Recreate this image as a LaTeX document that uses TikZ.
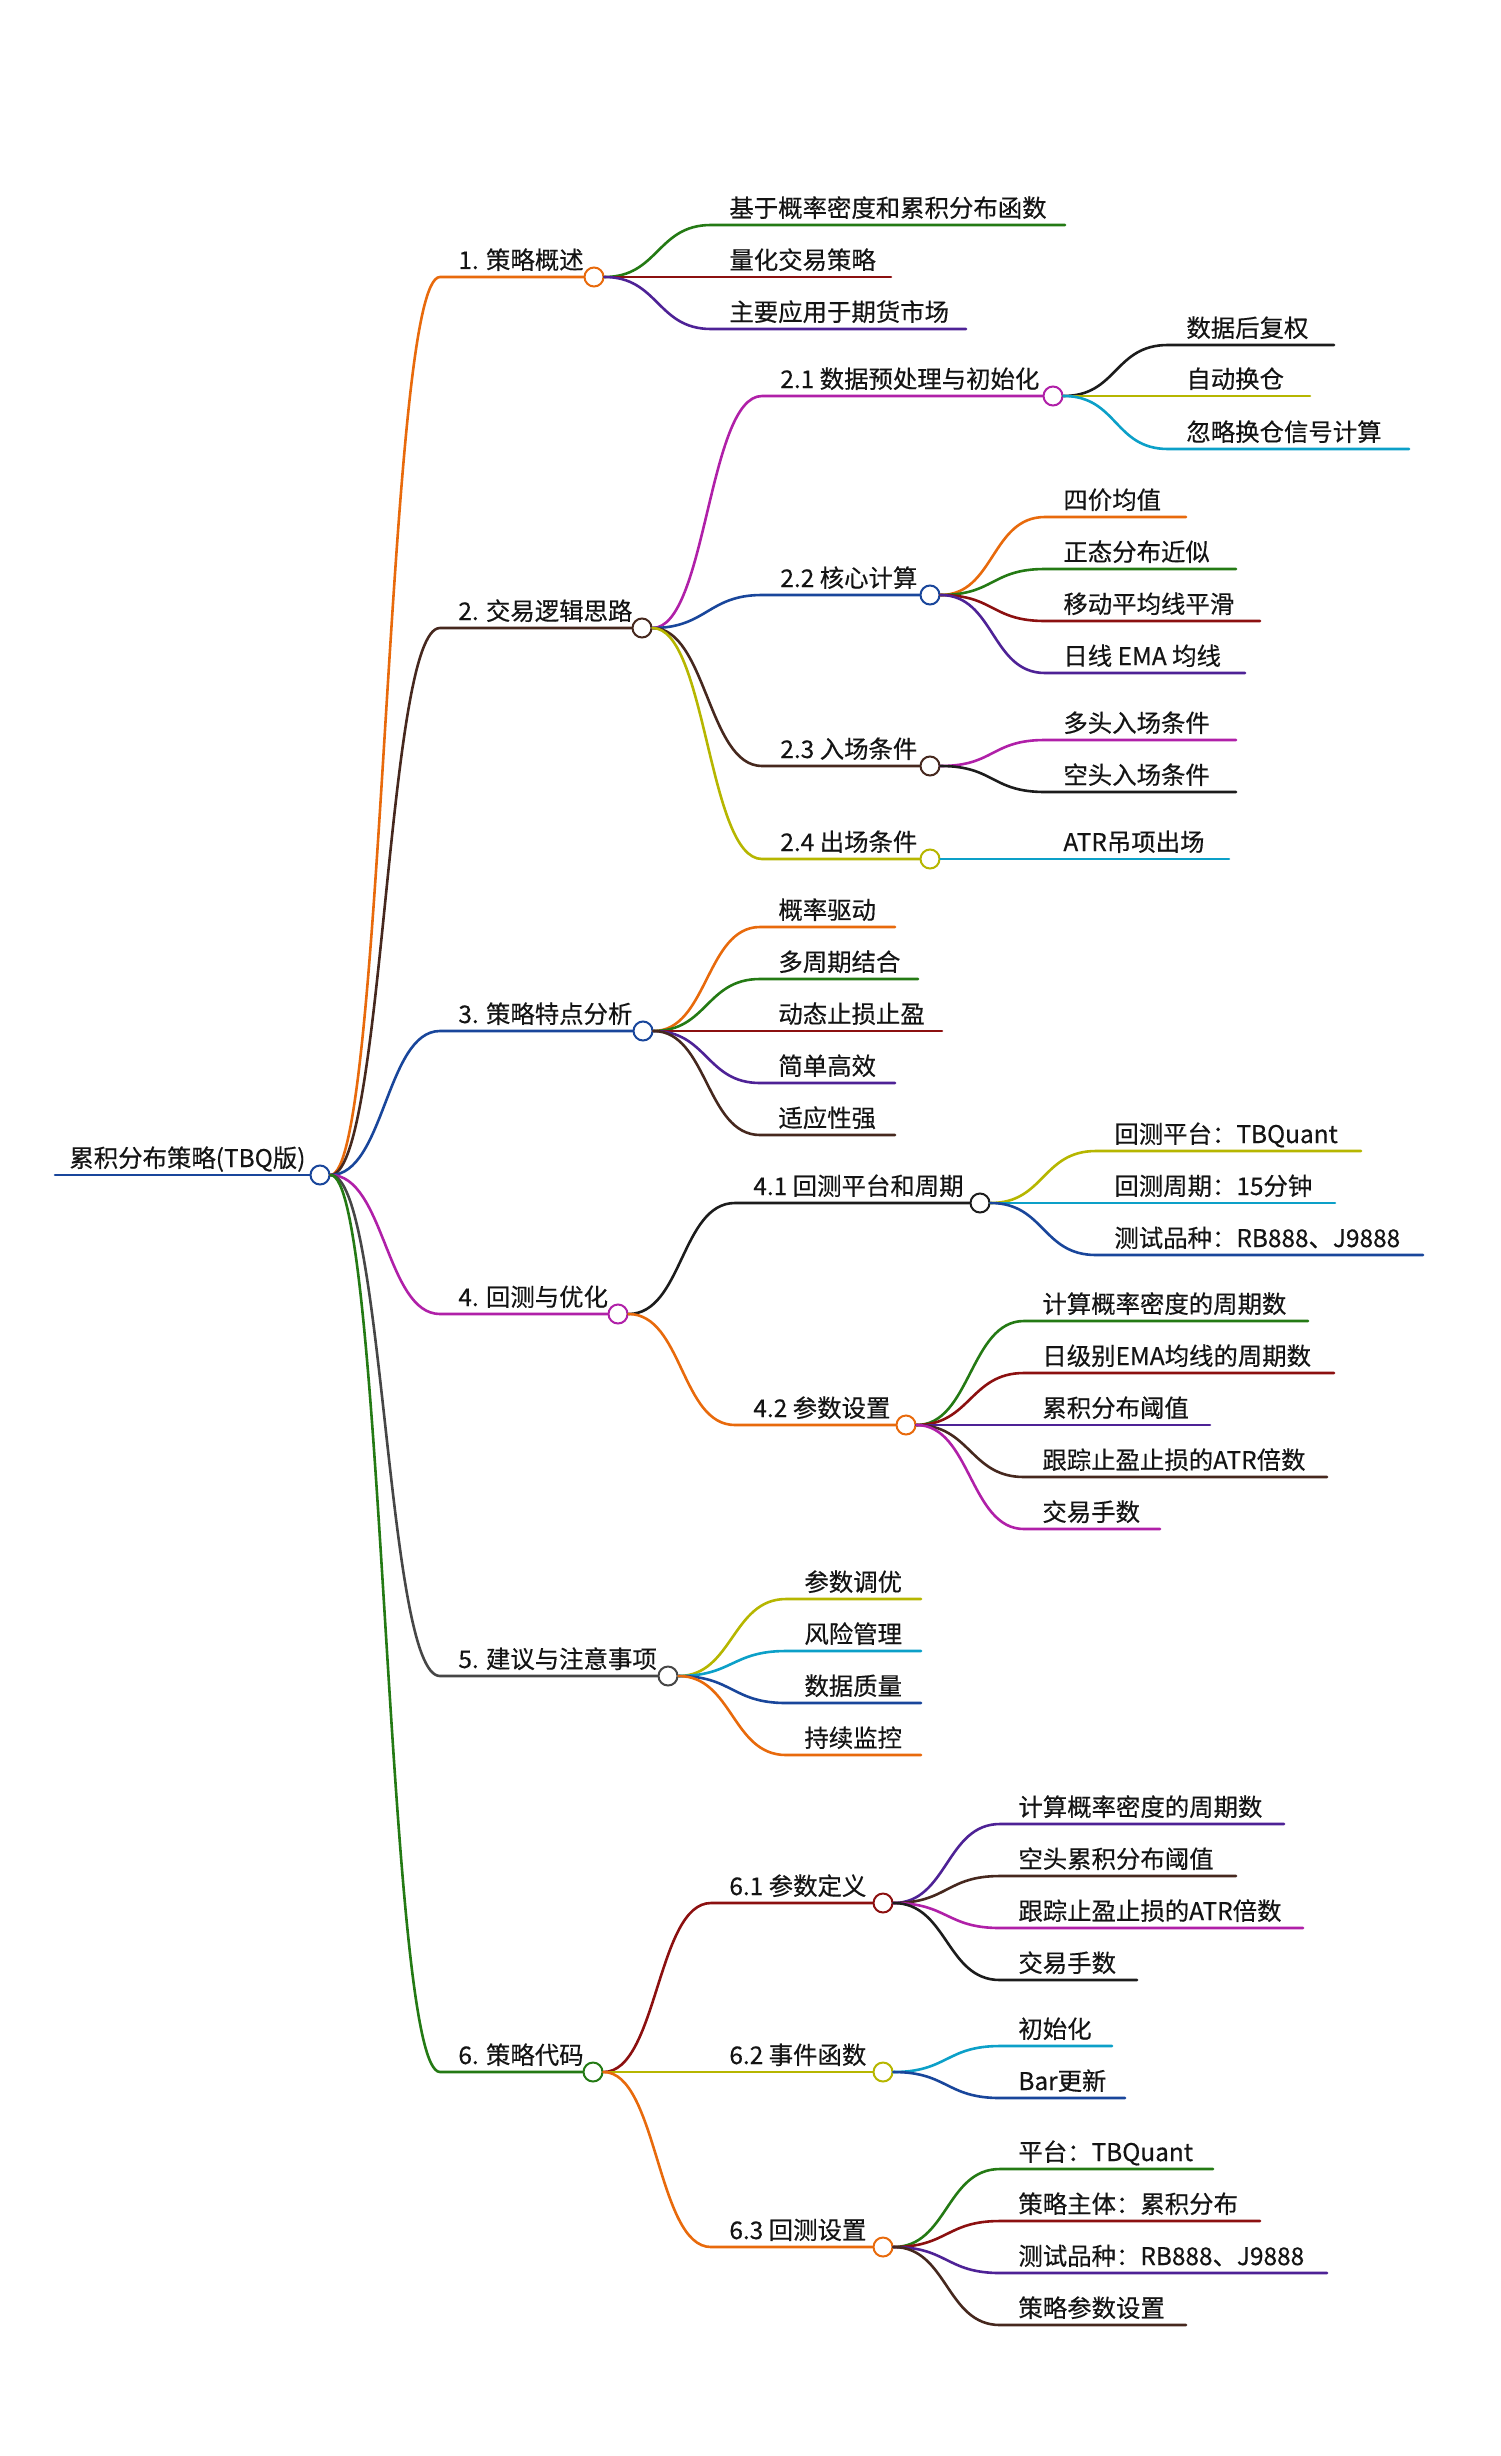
\documentclass[tikz,border=0pt]{standalone}
\usepackage{fontspec}
\setmainfont{Noto Sans CJK SC}[BoldFont=*, BoldFeatures={FakeBold=0.4}]
\usetikzlibrary{calc}

\definecolor{cOrange}{RGB}{232,106,12}
\definecolor{cGreen}{RGB}{36,122,20}
\definecolor{cRed}{RGB}{140,16,16}
\definecolor{cIndigo}{RGB}{78,34,150}
\definecolor{cMagenta}{RGB}{176,32,168}
\definecolor{cBrown}{RGB}{70,40,30}
\definecolor{cNavy}{RGB}{25,70,155}
\definecolor{cBlack}{RGB}{28,28,28}
\definecolor{cOlive}{RGB}{182,182,0}
\definecolor{cTeal}{RGB}{12,160,200}
\definecolor{cGray}{RGB}{70,70,70}
\definecolor{cText}{RGB}{20,20,20}

\begin{document}
\begin{tikzpicture}[x=0.5pt, y=-0.5pt,
	dot/.style={circle, draw=#1, fill=white, line width=1pt, minimum size=9.5pt, inner sep=0pt},
	lbl/.style={anchor=base west, inner sep=0pt, text=cText, font=\bfseries\fontsize{12.2}{15}\selectfont},
	edge/.style={line width=1.3pt, line cap=round}]
		
		%Frame
		\useasboundingbox (0,0) rectangle (1500,2456);
		
		%Root
		\node[dot=cNavy] (root) at (320,1175) {};
		\coordinate (r0) at (55,1175);
		\draw[edge, cNavy] (r0) -- (root.west);
		\node[lbl] (troot) at (69,1167) {累积分布策略(TBQ版)};
		
		%Main branches
		\foreach \n/\y/\x/\col/\txt in {1/277/594/cOrange/1. 策略概述, 2/628/642/cBrown/2. 交易逻辑思路, 3/1031/643/cNavy/3. 策略特点分析, 4/1314/618/cMagenta/4. 回测与优化, 5/1676/668/cGray/5. 建议与注意事项, 6/2072/593/cGreen/6. 策略代码}
		{
			\node[dot=\col] (n\n) at (\x,\y) {};
			\coordinate (s\n) at (440,\y);
			\draw[edge, \col] (root.east) .. controls +(54,0) and +(-54,0) .. (s\n) -- (n\n.west);
			\node[lbl] (t\n) at (458,\y-8) {\txt};
		}
		
		%1. Overview
		\foreach \i/\y/\xe/\col/\txt in {1/225/1065/cGreen/基于概率密度和累积分布函数, 2/277/891/cRed/量化交易策略, 3/329/966/cIndigo/主要应用于期货市场}
		{
			\coordinate (s1\i) at (711,\y);
			\coordinate (e1\i) at (\xe,\y);
			\draw[edge, \col] (n1.east) .. controls +(54,0) and +(-54,0) .. (s1\i) -- (e1\i);
			\node[lbl] (t1\i) at (729,\y-8) {\txt};
		}
		
		%2. Logic
		\foreach \i/\y/\x/\col/\txt in {1/396/1053/cMagenta/2.1 数据预处理与初始化, 2/595/930/cNavy/2.2 核心计算, 3/766/930/cBrown/2.3 入场条件, 4/859/930/cOlive/2.4 出场条件}
		{
			\node[dot=\col] (n2\i) at (\x,\y) {};
			\coordinate (s2\i) at (762,\y);
			\draw[edge, \col] (n2.east) .. controls +(54,0) and +(-54,0) .. (s2\i) -- (n2\i.west);
			\node[lbl] (t2\i) at (780,\y-8) {\txt};
		}
		%%2.1
		\foreach \i/\y/\xe/\col/\txt in {1/345/1334/cBlack/数据后复权, 2/396/1310/cOlive/自动换仓, 3/449/1409/cTeal/忽略换仓信号计算}
		{
			\coordinate (s21\i) at (1168,\y);
			\coordinate (e21\i) at (\xe,\y);
			\draw[edge, \col] (n21.east) .. controls +(54,0) and +(-54,0) .. (s21\i) -- (e21\i);
			\node[lbl] (t21\i) at (1186,\y-8) {\txt};
		}
		%%2.2
		\foreach \i/\y/\xe/\col/\txt in {1/517/1186/cOrange/四价均值, 2/569/1236/cGreen/正态分布近似, 3/621/1260/cRed/移动平均线平滑, 4/673/1245/cIndigo/日线 EMA 均线}
		{
			\coordinate (s22\i) at (1045,\y);
			\coordinate (e22\i) at (\xe,\y);
			\draw[edge, \col] (n22.east) .. controls +(54,0) and +(-54,0) .. (s22\i) -- (e22\i);
			\node[lbl] (t22\i) at (1063,\y-8) {\txt};
		}
		%%2.3
		\foreach \i/\y/\xe/\col/\txt in {1/740/1236/cMagenta/多头入场条件, 2/792/1236/cBlack/空头入场条件}
		{
			\coordinate (s23\i) at (1045,\y);
			\coordinate (e23\i) at (\xe,\y);
			\draw[edge, \col] (n23.east) .. controls +(54,0) and +(-54,0) .. (s23\i) -- (e23\i);
			\node[lbl] (t23\i) at (1063,\y-8) {\txt};
		}
		%%2.4
		\coordinate (e241) at (1229,859);
		\draw[edge, cTeal] (n24.east) -- (e241);
		\node[lbl] (t241) at (1063,851) {ATR吊项出场};
		
		%3. Features
		\foreach \i/\y/\xe/\col/\txt in {1/927/895/cOrange/概率驱动, 2/979/918/cGreen/多周期结合, 3/1031/942/cRed/动态止损止盈, 4/1083/895/cIndigo/简单高效, 5/1135/895/cBrown/适应性强}
		{
			\coordinate (s3\i) at (760,\y);
			\coordinate (e3\i) at (\xe,\y);
			\draw[edge, \col] (n3.east) .. controls +(54,0) and +(-54,0) .. (s3\i) -- (e3\i);
			\node[lbl] (t3\i) at (778,\y-8) {\txt};
		}
		
		%4. Backtest
		\foreach \i/\y/\x/\col/\txt in {1/1203/980/cBlack/4.1 回测平台和周期, 2/1425/906/cOrange/4.2 参数设置}
		{
			\node[dot=\col] (n4\i) at (\x,\y) {};
			\coordinate (s4\i) at (735,\y);
			\draw[edge, \col] (n4.east) .. controls +(54,0) and +(-54,0) .. (s4\i) -- (n4\i.west);
			\node[lbl] (t4\i) at (753,\y-8) {\txt};
		}
		%%4.1
		\foreach \i/\y/\xe/\col/\txt in {1/1151/1361/cOlive/回测平台：TBQuant, 2/1203/1335/cTeal/回测周期：15分钟, 3/1255/1423/cNavy/测试品种：RB888、J9888}
		{
			\coordinate (s41\i) at (1096,\y);
			\coordinate (e41\i) at (\xe,\y);
			\draw[edge, \col] (n41.east) .. controls +(54,0) and +(-54,0) .. (s41\i) -- (e41\i);
			\node[lbl] (t41\i) at (1114,\y-8) {\txt};
		}
		%%4.2
		\foreach \i/\y/\xe/\col/\txt in {1/1321/1308/cGreen/计算概率密度的周期数, 2/1373/1334/cRed/日级别EMA均线的周期数, 3/1425/1210/cIndigo/累积分布阈值, 4/1477/1327/cBrown/跟踪止盈止损的ATR倍数, 5/1529/1160/cMagenta/交易手数}
		{
			\coordinate (s42\i) at (1024,\y);
			\coordinate (e42\i) at (\xe,\y);
			\draw[edge, \col] (n42.east) .. controls +(54,0) and +(-54,0) .. (s42\i) -- (e42\i);
			\node[lbl] (t42\i) at (1042,\y-8) {\txt};
		}
		
		%5. Advice
		\foreach \i/\y/\xe/\col/\txt in {1/1599/921/cOlive/参数调优, 2/1651/921/cTeal/风险管理, 3/1703/921/cNavy/数据质量, 4/1755/921/cOrange/持续监控}
		{
			\coordinate (s5\i) at (786,\y);
			\coordinate (e5\i) at (\xe,\y);
			\draw[edge, \col] (n5.east) .. controls +(54,0) and +(-54,0) .. (s5\i) -- (e5\i);
			\node[lbl] (t5\i) at (804,\y-8) {\txt};
		}
		
		%6. Code
		\foreach \i/\y/\x/\col/\txt in {1/1903/883/cRed/6.1 参数定义, 2/2072/883/cOlive/6.2 事件函数, 3/2247/883/cOrange/6.3 回测设置}
		{
			\node[dot=\col] (n6\i) at (\x,\y) {};
			\coordinate (s6\i) at (711,\y);
			\draw[edge, \col] (n6.east) .. controls +(54,0) and +(-54,0) .. (s6\i) -- (n6\i.west);
			\node[lbl] (t6\i) at (729,\y-8) {\txt};
		}
		%%6.1
		\foreach \i/\y/\xe/\col/\txt in {1/1824/1284/cIndigo/计算概率密度的周期数, 2/1876/1236/cBrown/空头累积分布阈值, 3/1928/1303/cMagenta/跟踪止盈止损的ATR倍数, 4/1980/1137/cBlack/交易手数}
		{
			\coordinate (s61\i) at (1000,\y);
			\coordinate (e61\i) at (\xe,\y);
			\draw[edge, \col] (n61.east) .. controls +(54,0) and +(-54,0) .. (s61\i) -- (e61\i);
			\node[lbl] (t61\i) at (1018,\y-8) {\txt};
		}
		%%6.2
		\foreach \i/\y/\xe/\col/\txt in {1/2046/1112/cTeal/初始化, 2/2098/1125/cNavy/Bar更新}
		{
			\coordinate (s62\i) at (1000,\y);
			\coordinate (e62\i) at (\xe,\y);
			\draw[edge, \col] (n62.east) .. controls +(54,0) and +(-54,0) .. (s62\i) -- (e62\i);
			\node[lbl] (t62\i) at (1018,\y-8) {\txt};
		}
		%%6.3
		\foreach \i/\y/\xe/\col/\txt in {1/2169/1213/cGreen/平台：TBQuant, 2/2221/1260/cRed/策略主体：累积分布, 3/2273/1327/cIndigo/测试品种：RB888、J9888, 4/2325/1186/cBrown/策略参数设置}
		{
			\coordinate (s63\i) at (1000,\y);
			\coordinate (e63\i) at (\xe,\y);
			\draw[edge, \col] (n63.east) .. controls +(54,0) and +(-54,0) .. (s63\i) -- (e63\i);
			\node[lbl] (t63\i) at (1018,\y-8) {\txt};
		}
		
	\end{tikzpicture}
\end{document}
